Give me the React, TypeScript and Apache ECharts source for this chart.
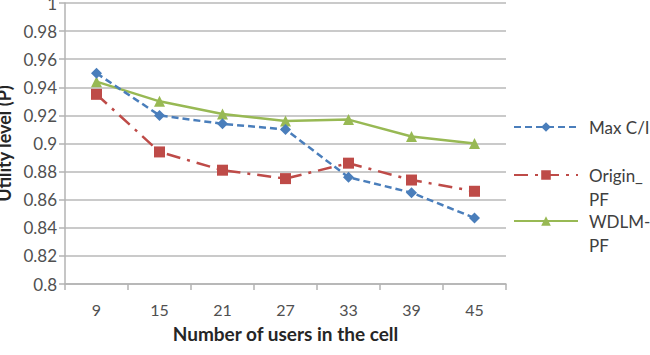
import React, { useEffect, useRef } from "react";
import * as echarts from "echarts";

const categories = ["9", "15", "21", "27", "33", "39", "45"];
const maxCI = [0.95, 0.92, 0.914, 0.91, 0.876, 0.865, 0.847];
const originPF = [0.935, 0.894, 0.881, 0.875, 0.886, 0.874, 0.866];
const wdlmPF = [0.944, 0.93, 0.921, 0.916, 0.917, 0.905, 0.9];
const seriesNames = ["Max C/I", "Origin_PF", "WDLM-PF"];

const FONT = "Lato";

export default function App() {
  const ref = useRef<HTMLDivElement>(null);
  useEffect(() => {
    if (!ref.current) return;
    const chart = echarts.init(ref.current, undefined, { renderer: "svg" });
    const legendBase = {
      orient: "vertical",
      left: 513,
      padding: 0,
      itemWidth: 64,
      itemHeight: 12,
      textStyle: { fontFamily: FONT, fontSize: 17, color: "#404040", lineHeight: 24, padding: [0, 0, 0, 6] },
    };
    chart.setOption({
      animation: false,
      grid: { left: 65, right: 144, top: 3, bottom: 71, containLabel: false, outerBoundsMode: "none" },
      legend: [
        { ...legendBase, top: 115, data: [seriesNames[0]] },
        {
          ...legendBase,
          top: 139,
          data: [seriesNames[1]],
          formatter: () => " \nOrigin_\nPF",
        },
        {
          ...legendBase,
          top: 185,
          data: [seriesNames[2]],
          formatter: () => " \nWDLM-\nPF",
        },
      ],
      xAxis: {
        type: "category",
        data: categories,
        boundaryGap: true,
        name: "Number of users in the cell",
        nameLocation: "middle",
        nameGap: 40,
        nameTextStyle: { fontFamily: FONT, fontSize: 19, fontWeight: "bold", color: "#262626" },
        axisLine: { lineStyle: { color: "#b3b3b3", width: 1.5 } },
        axisTick: { show: true, length: 6, lineStyle: { color: "#b3b3b3", width: 1.5 } },
        axisLabel: { fontFamily: FONT, fontSize: 16, color: "#505050", margin: 17 },
      },
      yAxis: {
        type: "value",
        min: 0.8,
        max: 1,
        interval: 0.02,
        name: "Utility level (P)",
        nameLocation: "middle",
        nameGap: 50,
        nameTextStyle: { fontFamily: FONT, fontSize: 18, fontWeight: "bold", color: "#262626" },
        axisLine: { show: true, lineStyle: { color: "#b3b3b3", width: 1.5 } },
        axisTick: { show: true, length: 6, lineStyle: { color: "#b3b3b3", width: 1.5 } },
        axisLabel: { fontFamily: FONT, fontSize: 17, color: "#505050", margin: 8 },
        splitLine: { lineStyle: { color: "#b8b8b8", width: 1.5 } },
      },
      series: [
        {
          name: seriesNames[0],
          type: "line",
          data: maxCI,
          symbol: "diamond",
          symbolSize: 11,
          itemStyle: { color: "#4a7ebb" },
          lineStyle: { color: "#4a7ebb", width: 2.5, type: [7, 4] },
          z: 3,
        },
        {
          name: seriesNames[1],
          type: "line",
          data: originPF,
          symbol: "rect",
          symbolSize: 11,
          itemStyle: { color: "#be4b48" },
          lineStyle: { color: "#be4b48", width: 2.5, type: [14, 7, 3, 7] },
          z: 2,
        },
        {
          name: seriesNames[2],
          type: "line",
          data: wdlmPF,
          symbol: "triangle",
          symbolSize: 11,
          itemStyle: { color: "#98b954" },
          lineStyle: { color: "#98b954", width: 2.5 },
          z: 1,
        },
      ],
    });
    return () => chart.dispose();
  }, []);
  return <div ref={ref} style={{ width: 650, height: 355, position: "absolute", left: 0, top: 0 }} />;
}
